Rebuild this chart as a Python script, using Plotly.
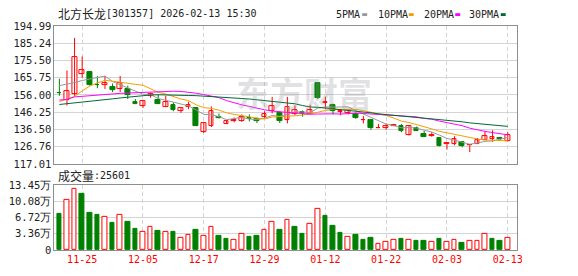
import plotly.graph_objects as go

W, H = 578, 276

# ---------------- data ----------------
dates = ["11-20", "11-21", "11-24", "11-25", "11-26", "11-27", "11-28", "12-01", "12-02", "12-03",
         "12-04", "12-05", "12-08", "12-09", "12-10", "12-11", "12-12", "12-15", "12-16", "12-17",
         "12-18", "12-19", "12-22", "12-23", "12-24", "12-25", "12-26", "12-29", "12-30", "12-31",
         "01-05", "01-06", "01-07", "01-08", "01-09", "01-12", "01-13", "01-14", "01-15", "01-16",
         "01-19", "01-20", "01-21", "01-22", "01-23", "01-26", "01-27", "01-28", "01-29", "01-30",
         "02-02", "02-03", "02-04", "02-05", "02-06", "02-09", "02-10", "02-11", "02-12", "02-13"]

opens = [157.3, 153.1, 156.7, 168.1, 168.8, 161.8, 161.8, 160.3, 159.4, 159.1,
         152.2, 149.9, 155.5, 153.3, 149.3, 150.4, 147.0, 149.0, 148.6, 134.7,
         138.3, 143.4, 139.6, 141.3, 141.4, 142.8, 142.3, 143.2, 146.8, 145.9,
         141.8, 145.3, 146.4, 145.0, 162.5, 151.6, 150.4, 146.5, 145.6, 145.3,
         141.6, 141.9, 137.2, 137.0, 138.5, 138.5, 133.1, 137.4, 133.8, 132.5,
         131.6, 128.3, 128.2, 129.1, 127.4, 128.4, 130.5, 130.9, 131.2, 129.8]
highs = [165.2, 169.9, 188.3, 177.8, 169.2, 166.7, 166.7, 162.5, 166.7, 161.3,
         153.7, 152.8, 157.3, 156.2, 155.5, 151.7, 149.0, 152.2, 148.9, 140.3,
         149.5, 145.5, 141.6, 143.2, 145.0, 145.0, 143.2, 146.8, 154.9, 146.8,
         154.9, 150.0, 147.2, 150.4, 162.8, 154.9, 151.1, 148.0, 148.0, 146.0,
         144.1, 141.9, 139.6, 139.9, 139.6, 139.6, 138.8, 138.1, 135.6, 135.0,
         131.6, 128.5, 132.7, 129.6, 127.6, 131.6, 135.6, 136.0, 132.3, 134.9]
lows = [155.5, 150.0, 155.5, 165.8, 161.3, 159.8, 159.4, 157.6, 157.6, 153.7,
        150.8, 148.6, 154.4, 150.8, 149.3, 146.8, 145.9, 147.9, 138.3, 134.5,
        137.9, 142.6, 139.6, 140.5, 140.8, 141.0, 140.1, 143.0, 145.6, 140.1,
        139.9, 144.6, 143.7, 145.0, 153.8, 147.9, 145.0, 144.5, 145.0, 142.5,
        139.9, 136.3, 137.2, 136.3, 138.5, 134.9, 133.1, 135.6, 132.3, 132.4,
        126.9, 125.1, 127.5, 126.4, 123.7, 128.4, 130.5, 129.5, 130.2, 129.8]
closes = [156.9, 158.0, 177.5, 169.9, 161.8, 161.5, 163.0, 158.5, 163.0, 155.8,
          151.0, 152.6, 156.7, 151.0, 152.2, 147.5, 148.3, 150.2, 138.5, 140.1,
          146.8, 143.1, 141.4, 141.6, 143.6, 142.5, 141.0, 145.3, 149.7, 141.0,
          149.0, 147.2, 145.0, 147.7, 154.0, 152.0, 146.8, 146.7, 147.2, 142.8,
          141.8, 137.2, 137.4, 138.5, 138.6, 135.3, 138.1, 135.8, 132.3, 133.4,
          126.9, 128.4, 130.9, 126.9, 127.5, 130.5, 132.7, 132.3, 131.1, 133.1]
prev_close = 157.5

ma5 = [161.3, 162.1, 163.0, 164.2, 165.0, 165.7, 166.7, 163.6, 161.8, 160.4,
       158.3, 156.4, 156.2, 154.0, 153.0, 152.0, 151.1, 149.8, 147.5, 145.0,
       144.8, 143.7, 142.0, 142.6, 143.3, 142.4, 142.0, 142.8, 144.4, 143.9,
       145.2, 146.4, 146.4, 146.0, 148.6, 149.2, 149.1, 149.4, 149.3, 147.1,
       145.1, 143.1, 141.3, 139.5, 138.7, 137.4, 137.6, 137.3, 136.0, 135.0,
       133.3, 131.4, 130.4, 129.3, 128.1, 128.8, 129.7, 130.0, 130.8, 131.9]
ma10 = [152.2, 153.7, 155.2, 158.3, 161.0, 162.8, 164.3, 163.8, 163.1, 162.6,
        162.0, 161.5, 159.4, 157.5, 156.5, 155.1, 153.7, 152.8, 150.4, 148.8,
        148.4, 147.4, 145.9, 145.0, 144.1, 143.6, 142.9, 142.4, 143.5, 143.6,
        143.8, 144.2, 144.6, 145.2, 146.2, 147.2, 147.8, 147.9, 147.7, 147.8,
        147.1, 146.1, 145.4, 144.4, 142.9, 141.2, 140.4, 139.3, 137.8, 136.8,
        135.4, 134.5, 133.8, 132.7, 131.6, 131.1, 130.5, 130.2, 130.1, 130.0]
ma20 = [153.1, 153.5, 154.9, 155.3, 155.7, 156.1, 156.4, 156.6, 156.9, 157.1,
        157.3, 157.5, 157.6, 157.8, 158.0, 158.1, 158.0, 157.6, 157.0, 156.2,
        155.3, 154.5, 152.8, 151.4, 150.4, 149.5, 148.4, 147.6, 146.9, 146.3,
        146.1, 145.8, 145.3, 145.1, 145.2, 145.4, 145.3, 145.2, 145.6, 145.7,
        145.5, 145.2, 145.0, 144.8, 144.6, 144.2, 144.1, 143.6, 142.7, 142.3,
        141.2, 140.3, 139.6, 138.6, 137.2, 136.2, 135.4, 134.7, 133.9, 133.4]
ma30 = [150.6, 151.0, 151.5, 152.0, 152.5, 152.9, 153.4, 153.8, 154.3, 154.8,
        155.3, 155.6, 156.0, 156.1, 156.1, 156.0, 155.9, 155.7, 155.6, 155.4,
        155.2, 155.0, 154.7, 154.3, 154.0, 153.7, 153.3, 152.8, 152.3, 151.8,
        151.4, 151.0, 150.0, 149.2, 149.0, 148.6, 148.1, 147.7, 147.2, 146.8,
        146.4, 145.9, 145.3, 144.9, 144.4, 144.0, 143.7, 143.2, 143.0, 142.8,
        142.1, 141.6, 141.3, 140.8, 140.2, 139.8, 139.6, 139.1, 138.5, 138.2]

volumes = [7.55, 10.27, 12.66, 11.53, 7.75, 7.16, 6.89, 5.57, 7.29, 5.76,
           4.37, 3.78, 4.70, 3.98, 3.71, 3.78, 2.52, 3.11, 4.17, 2.92,
           4.70, 2.98, 2.19, 2.12, 3.31, 2.78, 2.98, 4.11, 5.90, 4.17,
           6.29, 4.77, 3.38, 5.30, 8.48, 6.96, 4.97, 3.58, 2.72, 3.18,
           1.99, 2.58, 1.33, 1.59, 1.99, 2.19, 2.12, 1.79, 1.79, 1.59,
           2.19, 1.59, 2.12, 1.39, 1.79, 1.79, 3.31, 2.19, 1.79, 2.56]

price_ticks = [117.01, 126.76, 136.50, 146.25, 156.00, 165.75, 175.50, 185.24, 194.99]
vol_ticks = [0, 3.36, 6.72, 10.08, 13.45]
vol_tick_text = ["0", "3.36万", "6.72万", "10.08万", "13.45万"]
xtick_dates = ["11-25", "12-05", "12-17", "12-29", "01-12", "01-22", "02-03", "02-13"]
title_name = "北方长龙"
title_rest = "[301357] 2026-02-13 15:30"
vol_label = "成交量"
vol_value = ":25601"
ma_names = ["5PMA", "10PMA", "20PMA", "30PMA"]
watermark = "东方财富"

# ---------------- style ----------------
RED = "#ff0000"
GREEN = "#008000"
MA_COLORS = ["#999999", "#f0a000", "#ff00ff", "#006a32"]
GRID = "#d4d4d4"
FRAME = "#8e8e8e"
MONO = "DejaVu Sans Mono"
CJK = "Noto Sans CJK SC"

def px(x):
    return x / W

def py(y):
    return 1 - y / H

idx = list(range(len(dates)))
tick_idx = [dates.index(d) for d in xtick_dates]
XR = [-0.65, len(dates) + 0.16]

fig = go.Figure()

# wicks
for up, col in ((True, RED), (False, GREEN)):
    xs, ys = [], []
    for i in idx:
        if (closes[i] >= opens[i]) == up:
            xs += [i, i, None]
            ys += [lows[i], highs[i], None]
    fig.add_trace(go.Scatter(x=xs, y=ys, mode="lines", line=dict(color=col, width=1),
                             hoverinfo="skip", showlegend=False, xaxis="x", yaxis="y"))

# bodies
for up, col, fill in ((True, RED, "white"), (False, GREEN, GREEN)):
    bx, bb, bh = [], [], []
    for i in idx:
        if (closes[i] >= opens[i]) == up:
            bx.append(i)
            bb.append(min(opens[i], closes[i]))
            bh.append(max(abs(closes[i] - opens[i]), 0.25))
    fig.add_trace(go.Bar(x=bx, y=bh, base=bb, width=0.62,
                         marker=dict(color=fill, line=dict(color=col, width=1)),
                         hoverinfo="skip", showlegend=False, xaxis="x", yaxis="y"))

# moving averages
for ma, col in zip((ma5, ma10, ma20, ma30), MA_COLORS):
    fig.add_trace(go.Scatter(x=idx, y=ma, mode="lines", line=dict(color=col, width=1),
                             hoverinfo="skip", showlegend=False, xaxis="x", yaxis="y"))

# volume
prevs = [prev_close] + closes[:-1]
for up, col, fill in ((True, RED, "white"), (False, GREEN, GREEN)):
    vx = [i for i in idx if (closes[i] > prevs[i]) == up]
    vy = [volumes[i] for i in vx]
    fig.add_trace(go.Bar(x=vx, y=vy, width=0.6,
                         marker=dict(color=fill, line=dict(color=col, width=1)),
                         hoverinfo="skip", showlegend=False, xaxis="x2", yaxis="y2"))

axis_common = dict(showline=True, mirror=True, linecolor=FRAME, linewidth=1,
                   zeroline=False, ticks="", fixedrange=True)

fig.update_layout(
    width=W, height=H, margin=dict(l=0, r=0, t=0, b=0),
    paper_bgcolor="white", plot_bgcolor="white",
    barmode="overlay", bargap=0, showlegend=False,
    xaxis=dict(domain=[px(55), px(522)], anchor="y", range=XR, tickvals=tick_idx,
               showticklabels=False, showgrid=True, gridcolor=GRID, griddash="4px,3px",
               **axis_common),
    yaxis=dict(domain=[py(165), py(21)], anchor="x", range=[price_ticks[0], price_ticks[-1]],
               tickvals=price_ticks, ticktext=["%.2f" % v for v in price_ticks],
               showgrid=True, gridcolor=GRID, tickfont=dict(family=MONO, size=10.5, color="#222"),
               **axis_common),
    xaxis2=dict(domain=[px(55), px(522)], anchor="y2", range=XR, tickvals=tick_idx,
                ticktext=xtick_dates, tickfont=dict(family=MONO, size=10, color=RED),
                showgrid=True, gridcolor=GRID, griddash="4px,3px", **axis_common),
    yaxis2=dict(domain=[py(255), py(187)], anchor="x2", range=[vol_ticks[0], vol_ticks[-1]],
                tickvals=vol_ticks, ticktext=vol_tick_text, showgrid=True, gridcolor=GRID,
                tickfont=dict(family=MONO, size=10.5, color="#222"), **axis_common),
)

ann = []
ann.append(dict(x=px(57), y=py(8), text=title_name, font=dict(family=CJK, size=12, color="#222")))
ann.append(dict(x=px(105), y=py(8), text=title_rest, font=dict(family=MONO, size=10, color="#222")))
ann.append(dict(x=px(57), y=py(177.5), text=vol_label, font=dict(family=CJK, size=12, color="#222")))
ann.append(dict(x=px(93), y=py(177.5), text=vol_value, font=dict(family=MONO, size=10, color="#222")))

leg_x = [338, 380, 426, 472]
sw_x = [366, 413, 460, 506]
shapes = []
for name, lx, sx, col in zip(ma_names, leg_x, sw_x, MA_COLORS):
    ann.append(dict(x=px(lx), y=py(9), text=name, font=dict(family=MONO, size=10, color="#222")))
    shapes.append(dict(type="rect", xref="paper", yref="paper", x0=px(sx), x1=px(sx + 5),
                       y0=py(10.5), y1=py(7.5), fillcolor=col, line=dict(width=0)))

for a in ann:
    a.update(xref="paper", yref="paper", xanchor="left", yanchor="middle", showarrow=False)

ann.append(dict(x=px(307), y=py(90), xref="paper", yref="paper", text=watermark, showarrow=False,
                xanchor="center", yanchor="middle",
                font=dict(family=CJK, size=34, weight=700, color="rgba(150,150,160,0.28)")))

fig.update_layout(annotations=ann, shapes=shapes)

fig.write_html("out.html")
